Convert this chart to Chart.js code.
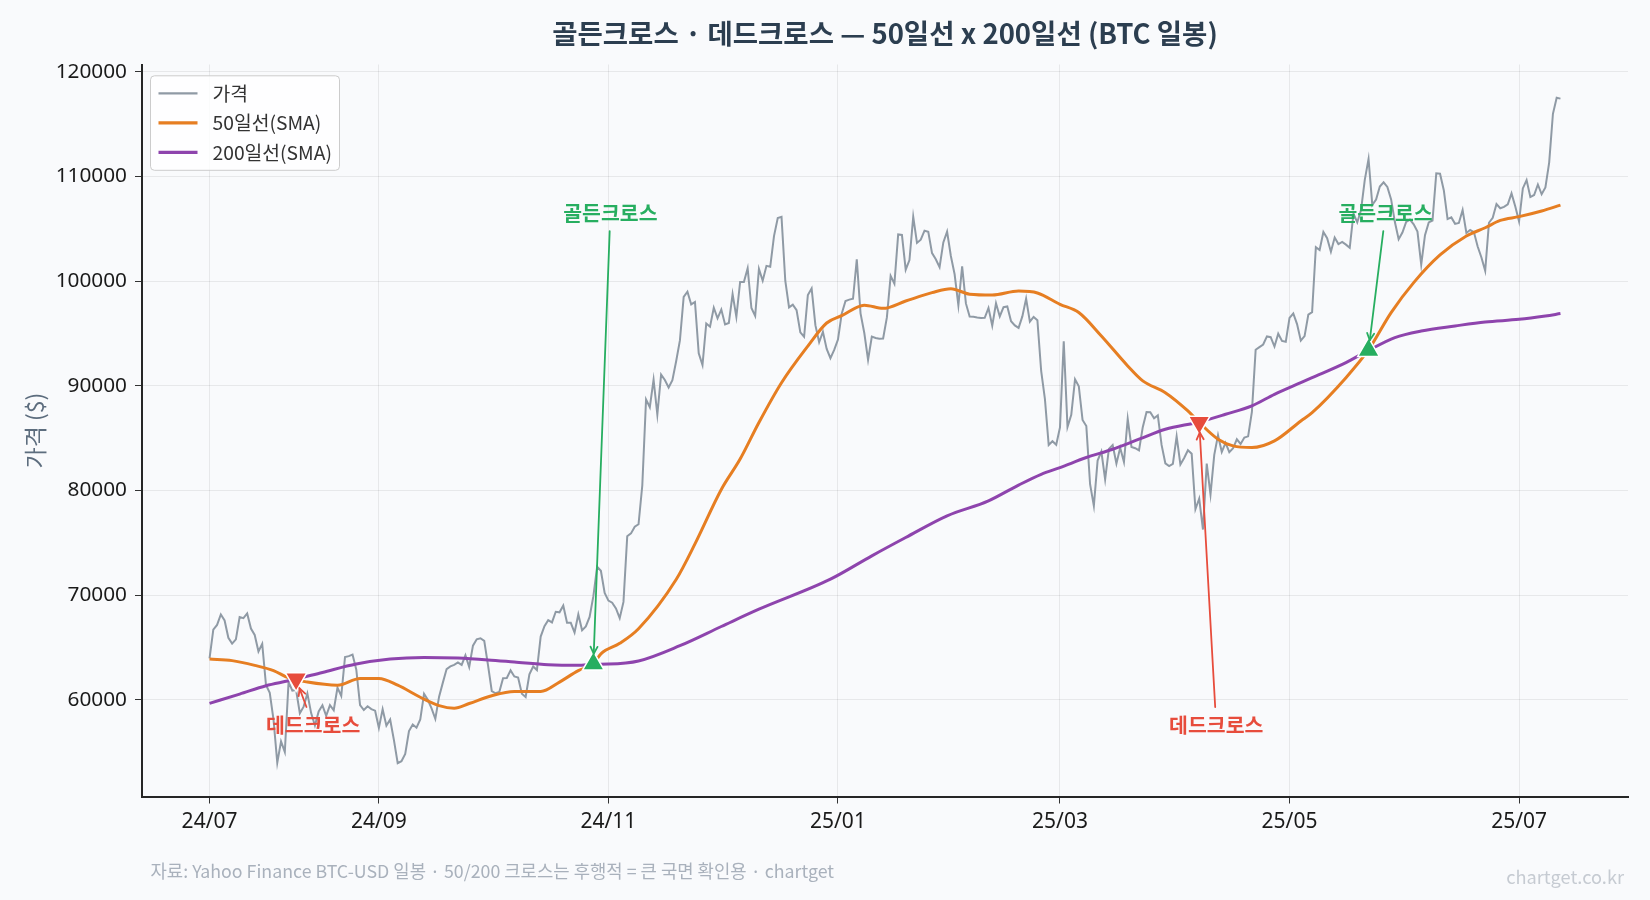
<!DOCTYPE html>
<html><head><meta charset="utf-8">
<script src="https://cdn.jsdelivr.net/npm/chart.js@4.4.1/dist/chart.umd.min.js"></script>
<style>html,body{margin:0;padding:0;background:#f9fafc;}#wrap{width:1650px;height:900px;}</style>
</head><body><div id="wrap"><canvas id="c" width="1650" height="900"></canvas></div>
<script>
// ---- data (day index 0 = 2024-07-18) ----
const startDate = '2024-07-18';
const tickDays = [0, 45, 106, 167, 226, 287, 348];
const tickLabels = ['24/07', '24/09', '24/11', '25/01', '25/03', '25/05', '25/07'];
const yTicks = [60000, 70000, 80000, 90000, 100000, 110000, 120000];

const price = [
  // 2024-07 (18..31)
  63974, 66710, 67164, 68154, 67585, 65927, 65372, 65777, 67912, 67813, 68255, 66819, 66202, 64620,
  // 2024-08
  65357, 61416, 60680, 58116, 53991, 56034, 55027, 61710, 60880, 60945, 58719, 59354, 60610, 58737, 57560, 58895,
  59478, 58483, 59493, 59012, 61175, 60381, 64094, 64178, 64333, 62880, 59504, 59027, 59388, 59119, 58969,
  // 2024-09
  57325, 59113, 57542, 58131, 56161, 53949, 54140, 54841, 57019, 57648, 57344, 58128, 60571, 60005, 59182,
  58192, 60309, 61649, 62940, 63193, 63349, 63579, 63340, 64262, 63143, 65181, 65790, 65887, 65635, 63329,
  // 2024-10
  60837, 60632, 60759, 62067, 62089, 62818, 62236, 62131, 60582, 60275, 62445, 63193, 62851, 66046, 67041, 67612,
  67399, 68418, 68362, 69002, 67367, 67361, 66432, 68161, 66642, 67014, 67929, 69907, 72720, 72339, 70215,
  // 2024-11
  69482, 69289, 68742, 67811, 69359, 75640, 75904, 76545, 76778, 80474, 88701, 87955, 90585, 87250, 91067,
  90558, 89845, 90542, 92343, 94339, 98505, 98997, 97777, 98013, 93102, 91986, 95962, 95652, 97461, 96449,
  // 2024-12
  97279, 95865, 96002, 98768, 96593, 99920, 99923, 101236, 97432, 96675, 101173, 100043, 101459, 101373, 104298, 106030,
  106140, 100041, 97490, 97755, 97225, 95104, 94686, 98676, 99300, 95795, 94164, 95163, 93530, 92643, 93429,
  // 2025-01
  94419, 96887, 98107, 98237, 98315, 102078, 96922, 95043, 92484, 94701, 94566, 94488, 94516, 96534, 100504, 99756,
  104462, 104409, 101090, 102016, 106146, 103653, 103960, 104820, 104714, 102682, 102087, 101332, 103703, 104735, 102405,
  // 2025-02
  100655, 97688, 101406, 97871, 96615, 96593, 96530, 96482, 96500, 97437, 95748, 97886, 96623, 97508,
  97581, 96175, 95773, 95539, 96635, 98334, 96126, 96577, 96273, 91418, 88736, 84347, 84705, 84373,
  // 2025-03
  86032, 94248, 86066, 87223, 90623, 89961, 86742, 86154, 80601, 78532, 82862, 83723, 81066, 83969, 84343, 82579,
  84075, 82718, 86854, 84167, 84043, 83832, 86054, 87498, 87471, 86900, 87177, 84353, 82598, 82334, 82549,
  // 2025-04
  85169, 82486, 83102, 83844, 83505, 78214, 79235, 76271, 82574, 79626, 83404, 85287, 83684, 84543, 83668,
  84033, 84895, 84450, 85063, 85174, 87518, 93441, 93699, 93944, 94720, 94646, 93754, 94978, 94284, 94207,
  // 2025-05
  96492, 96910, 95892, 94315, 94748, 96802, 97032, 103241, 102970, 104696, 104106, 102812, 104169, 103539, 103744, 103489,
  103191, 106446, 105606, 106791, 109679, 111673, 107287, 107791, 109035, 109440, 108994, 107803, 105642, 103999, 104638,
  // 2025-06
  105652, 105882, 105433, 104732, 101575, 104391, 105616, 105794, 110295, 110257, 108686, 105930, 106090, 105472, 105553,
  106796, 104601, 104884, 104684, 103310, 102258, 100987, 105577, 106045, 107361, 106961, 107088, 107327, 108386, 107135,
  // 2025-07 (1..12)
  105698, 108859, 109647, 108034, 108231, 109232, 108300, 108950, 111327, 115987, 117516, 117435
];

const sma50Days = [0, 6, 12, 17, 21, 26, 34, 40, 45, 50, 56, 61, 65, 69, 75, 81, 88, 93, 98, 102, 104, 109, 114, 124, 129, 136,
  141, 146, 152, 159, 164, 168, 174, 179, 185, 192, 197, 202, 208, 215, 220, 226, 231, 237, 244, 248, 254, 260, 263, 268,
  272, 277, 283, 290, 293, 302, 308, 314, 320, 327, 334, 339, 343, 348, 354, 359];
const sma50 = [63900, 63750, 63300, 62800, 62100, 61700, 61400, 62050, 62050, 61400, 60250, 59450, 59200, 59650, 60400, 60800,
  60800, 61700, 62800, 63450, 64400, 65400, 66800, 71500, 74900, 80100, 83000, 86500, 90300, 93800, 96000, 96700, 97700,
  97400, 98100, 98900, 99280, 98750, 98670, 99050, 98870, 97790, 97000, 94760, 91900, 90470, 89350, 87600, 86500, 84900,
  84260, 84100, 84740, 86640, 87440, 90780, 93450, 97000, 99860, 102500, 104310, 105100, 105800, 106160, 106700, 107260];

const sma200Days = [0, 8, 15, 21, 30, 39, 48, 57, 66, 74, 81, 90, 98, 102, 106, 114, 125, 136, 146, 165, 176, 185, 196, 207,
  215, 221, 226, 233, 240, 247, 254, 263, 270, 277, 283, 290, 293, 302, 308, 315, 322, 331, 339, 348, 355, 359];
const sma200 = [59670, 60550, 61350, 61820, 62620, 63420, 63900, 64050, 63990, 63820, 63620, 63360, 63300, 63400, 63420, 63720,
  65180, 67010, 68660, 71530, 73760, 75510, 77580, 79010, 80520, 81550, 82190, 83150, 83940, 84900, 85850, 86550, 87280,
  88080, 89190, 90310, 90780, 92220, 93380, 94610, 95240, 95720, 96100, 96350, 96670, 96900];

const crossDays = [23, 102, 263, 308];
const crossValues = [62000, 63450, 86500, 93400];
const crossKinds = ['dead', 'golden', 'dead', 'golden'];
const crossLabels = ['데드크로스', '골든크로스', '데드크로스', '골든크로스'];

// ---- styling ----
const KR = '"Noto Sans CJK KR", "Noto Sans", sans-serif';
const LAT = '"Noto Sans", "Noto Sans CJK KR", sans-serif';
const C_PRICE = '#8f9aa5', C_50 = '#e67e22', C_200 = '#8e44ad';
const C_RED = '#e74c3c', C_GREEN = '#27ae60';

const pMin = Math.min(...price), pMax = Math.max(...price);
const yPad = (pMax - pMin) * 0.05;
const lastDay = price.length - 1;
const xPad = lastDay * 0.05;

const pts = (xs, ys) => xs.map((d, i) => ({x: d, y: ys[i]}));
const pick = kind => crossDays.map((d, i) => ({x: d, y: crossValues[i], k: crossKinds[i]})).filter(p => p.k === kind);

const bgPlugin = {
  id: 'bg',
  beforeDraw(chart) {
    const c = chart.ctx; c.save(); c.fillStyle = '#f9fafc'; c.fillRect(0, 0, chart.width, chart.height); c.restore();
  }
};

const annotPlugin = {
  id: 'annot',
  afterDatasetsDraw(chart) {
    const {ctx, scales: {x, y}} = chart;
    ctx.save();
    crossDays.forEach((d, i) => {
      const golden = crossKinds[i] === 'golden';
      const color = golden ? C_GREEN : C_RED;
      const px = x.getPixelForValue(d), py = y.getPixelForValue(crossValues[i]);
      const tx = px + 17, ty = y.getPixelForValue(golden ? 106500 : 57600);
      ctx.font = 'bold 20.5px ' + KR;
      ctx.fillStyle = color; ctx.textAlign = 'center'; ctx.textBaseline = 'middle';
      ctx.fillText(crossLabels[i], tx, ty);
      // arrow from text box edge to marker
      const hh = 18, hw = ctx.measureText(crossLabels[i]).width / 2 + 4;
      const dx = px - tx, dy = py - ty;
      let t = Math.min(Math.abs(hh / dy), Math.abs(hw / (dx || 1e-6)));
      const sx = tx + dx * t, sy = ty + dy * t;
      const len = Math.hypot(px - sx, py - sy);
      const ux = (px - sx) / len, uy = (py - sy) / len;
      const ex = px - ux * 10, ey = py - uy * 10;
      ctx.strokeStyle = color; ctx.lineWidth = 1.8; ctx.lineCap = 'round';
      ctx.beginPath(); ctx.moveTo(sx, sy); ctx.lineTo(ex, ey); ctx.stroke();
      const hl = 7, hwid = 3.5;
      ctx.beginPath();
      ctx.moveTo(ex - ux * hl - uy * hwid, ey - uy * hl + ux * hwid);
      ctx.lineTo(ex, ey);
      ctx.lineTo(ex - ux * hl + uy * hwid, ey - uy * hl - ux * hwid);
      ctx.stroke();
    });
    ctx.restore();
  },
  afterDraw(chart) {
    const {ctx, chartArea: ca} = chart;
    ctx.save();
    // title
    ctx.fillStyle = '#2c3e50'; ctx.font = 'bold 27.5px ' + KR; ctx.textAlign = 'center'; ctx.textBaseline = 'middle';
    ctx.fillText('골든크로스 · 데드크로스 — 50일선 x 200일선 (BTC 일봉)', (ca.left + ca.right) / 2, 34);
    // legend
    const lx = ca.left + 8.5, ly = ca.top + 11.3, lw = 189, lh = 94.5;
    ctx.beginPath(); ctx.roundRect(lx, ly, lw, lh, 4);
    ctx.fillStyle = 'rgba(255,255,255,0.8)'; ctx.fill();
    ctx.strokeStyle = '#cccccc'; ctx.lineWidth = 1; ctx.stroke();
    chart.data.datasets.slice(0, 3).forEach((ds, i) => {
      const yy = ly + 17.5 + i * 29.5;
      ctx.strokeStyle = ds.borderColor; ctx.lineWidth = ds.borderWidth + 0.3; ctx.lineCap = 'butt';
      ctx.beginPath(); ctx.moveTo(lx + 8, yy); ctx.lineTo(lx + 47, yy); ctx.stroke();
      ctx.fillStyle = '#333333'; ctx.font = '19.3px ' + KR; ctx.textAlign = 'left'; ctx.textBaseline = 'middle';
      ctx.fillText(ds.label, lx + 62, yy);
    });
    // footer
    ctx.fillStyle = '#a9b1bc'; ctx.font = '17.8px ' + KR; ctx.textAlign = 'left'; ctx.textBaseline = 'middle';
    ctx.fillText('자료: Yahoo Finance BTC-USD 일봉 · 50/200 크로스는 후행적 = 큰 국면 확인용 · chartget', 150.5, 871.5);
    ctx.fillStyle = '#c6cbd2'; ctx.font = '18.2px ' + KR; ctx.textAlign = 'right';
    ctx.fillText('chartget.co.kr', 1624, 877);
    ctx.restore();
  }
};

new Chart(document.getElementById('c'), {
  type: 'line',
  data: {
    datasets: [
      {label: '가격', data: pts(price.map((v, i) => i), price), borderColor: C_PRICE, borderWidth: 2.0, pointRadius: 0, order: 3},
      {label: '50일선(SMA)', data: pts(sma50Days, sma50), borderColor: C_50, borderWidth: 3.0, pointRadius: 0, cubicInterpolationMode: 'monotone', order: 2},
      {label: '200일선(SMA)', data: pts(sma200Days, sma200), borderColor: C_200, borderWidth: 3.0, pointRadius: 0, cubicInterpolationMode: 'monotone', order: 1},
      {label: 'dead', data: pick('dead'), showLine: false, pointStyle: 'triangle', pointRotation: 180, pointRadius: 12.5,
        pointBackgroundColor: C_RED, pointBorderColor: '#ffffff', pointBorderWidth: 1.5, order: 0},
      {label: 'golden', data: pick('golden'), showLine: false, pointStyle: 'triangle', pointRotation: 0, pointRadius: 12.5,
        pointBackgroundColor: C_GREEN, pointBorderColor: '#ffffff', pointBorderWidth: 1.5, order: 0}
    ]
  },
  options: {
    responsive: false, devicePixelRatio: 1, animation: false, events: [],
    layout: {padding: {top: 64.5, right: 22, bottom: 0, left: 0}},
    plugins: {legend: {display: false}, title: {display: false}, tooltip: {enabled: false}},
    scales: {
      x: {
        type: 'linear', min: -xPad, max: lastDay + xPad,
        afterBuildTicks: s => { s.ticks = tickDays.map(v => ({value: v})); },
        afterFit: s => { s.height = 103.5; },
        ticks: {autoSkip: false, maxRotation: 0, padding: 6, color: '#1a1a1a', font: {family: LAT, size: 21},
          callback: v => tickLabels[tickDays.indexOf(v)]},
        grid: {color: 'rgba(0,0,0,0.07)', tickColor: '#333333', tickLength: 7, lineWidth: 1},
        border: {display: true, color: '#262626', width: 2}
      },
      y: {
        type: 'linear', min: pMin - yPad, max: pMax + yPad,
        afterBuildTicks: s => { s.ticks = yTicks.map(v => ({value: v})); },
        afterFit: s => { s.width = 142; },
        ticks: {padding: 8, color: '#1a1a1a', font: {family: LAT, size: 20.8}, callback: v => String(v)},
        grid: {color: 'rgba(0,0,0,0.07)', tickColor: '#333333', tickLength: 7, lineWidth: 1},
        border: {display: true, color: '#262626', width: 2},
        title: {display: true, text: '가격 ($)', color: '#5d6d7e', font: {family: KR, size: 23}, padding: {top: 21, bottom: 0}}
      }
    }
  },
  plugins: [bgPlugin, annotPlugin]
});
</script>
</body></html>
